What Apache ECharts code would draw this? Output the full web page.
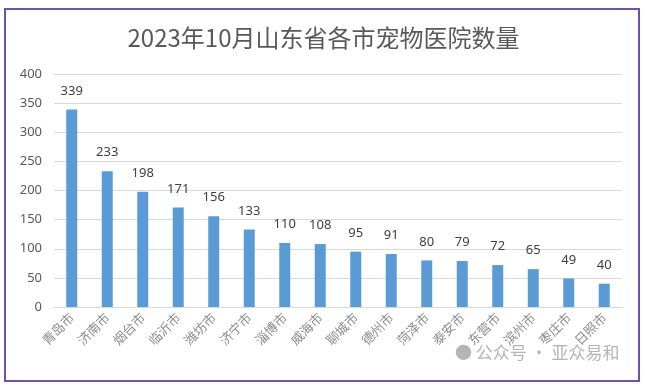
<!DOCTYPE html>
<html>
<head>
<meta charset="utf-8">
<script src="https://cdn.jsdelivr.net/npm/echarts@6/dist/echarts.min.js"></script>
<style>
html,body{margin:0;padding:0;background:#fff;}
#c{width:647px;height:388px;}
</style>
</head>
<body>
<div id="c"></div>
<script>
const titleText = '2023年10月山东省各市宠物医院数量';
const categories = ['青岛市','济南市','烟台市','临沂市','潍坊市','济宁市','淄博市','威海市','聊城市','德州市','菏泽市','泰安市','东营市','滨州市','枣庄市','日照市'];
const values = [339,233,198,171,156,133,110,108,95,91,80,79,72,65,49,40];
const yTicks = [0,50,100,150,200,250,300,350,400];

const chart = echarts.init(document.getElementById('c'), null, {renderer:'canvas'});
chart.setOption({
  backgroundColor:'#fff',
  animation:false,
  title:{
    text:titleText, left:'center', top:21,
    textStyle:{fontFamily:'Noto Sans CJK SC', fontSize:24, fontWeight:'normal', color:'#595959'}
  },
  graphic:[
    {type:'rect', shape:{x:5,y:9,width:634,height:372}, style:{fill:'none', stroke:'#7050a8', lineWidth:2}, z:10},
    {type:'text', left:455, top:344, style:{text:'● 公众号 · 亚众易和', fill:'#b5b5b5', fontSize:17, fontFamily:'Noto Sans CJK SC'}, z:10}
  ],
  grid:{left:54, right:25, top:74, bottom:81, containLabel:false},
  xAxis:{
    type:'category', data:categories,
    axisLine:{lineStyle:{color:'#d9d9d9'}},
    axisTick:{show:false},
    axisLabel:{rotate:45, interval:0, color:'#8c8c8c', fontSize:13, fontFamily:'Noto Sans CJK SC', margin:8}
  },
  yAxis:{
    type:'value', min:yTicks[0], max:yTicks[yTicks.length-1], interval:50,
    axisLine:{show:false}, axisTick:{show:false},
    splitLine:{lineStyle:{color:'#d9d9d9'}},
    axisLabel:{color:'#595959', fontSize:13, fontFamily:'Noto Sans', margin:12}
  },
  series:[{
    type:'bar', data:values, barWidth:'31%',
    itemStyle:{color:'#5b9bd5'},
    label:{show:true, position:'top', distance:12, color:'#404040', fontSize:13, fontFamily:'Noto Sans'}
  }]
});
</script>
</body>
</html>
